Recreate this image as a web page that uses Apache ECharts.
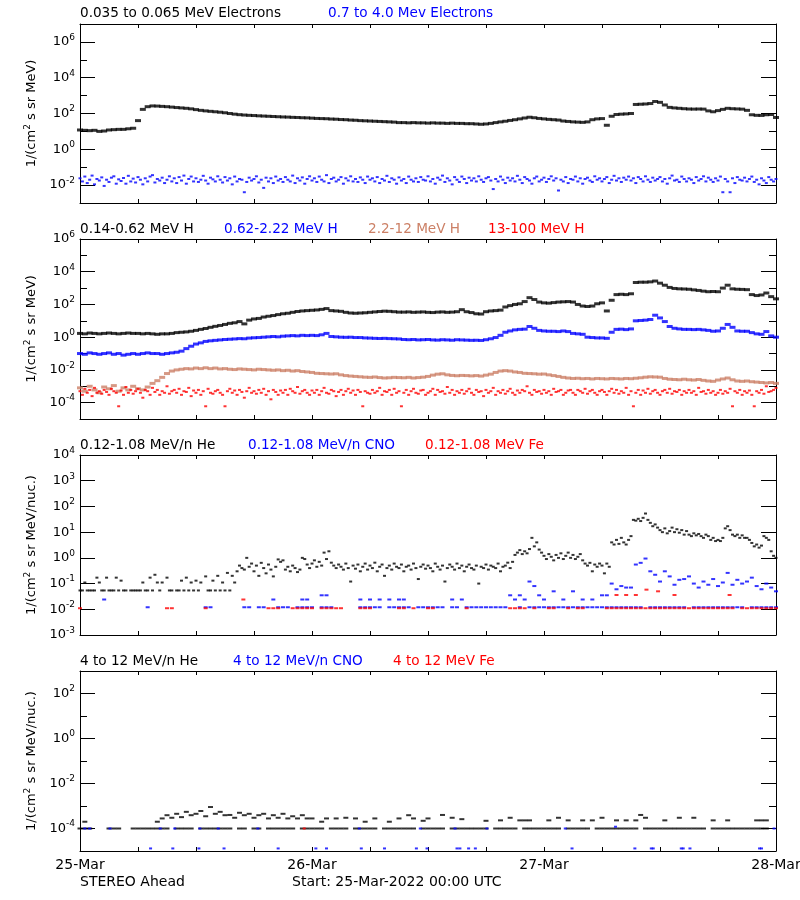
<!DOCTYPE html>
<html>
<head>
<meta charset="utf-8">
<script src="https://cdn.jsdelivr.net/npm/echarts@6.0.0/dist/echarts.min.js"></script>
<style>html,body{margin:0;padding:0;background:#fff}#c{width:800px;height:900px}</style>
</head>
<body>
<div id="c"></div>
<script>
const _ = null;
// ---------- time / tick labels ----------
const dayLabels = ['25-Mar', '26-Mar', '27-Mar', '28-Mar'];
const dayTicks = [0, 24, 48, 72];          // hours since 25-Mar-2022 00:00 UTC
const halfHour = 0.5, quarterHour = 0.25;  // sampling steps (hours)

const p1Labels = [1e-2, 1, 1e2, 1e4, 1e6];
const p1Ticks = [1e-2, 1e-1, 1, 1e1, 1e2, 1e3, 1e4, 1e5, 1e6];
const p2Labels = [1e-4, 1e-2, 1, 1e2, 1e4, 1e6];
const p2Ticks = [1e-4, 1e-3, 1e-2, 1e-1, 1, 1e1, 1e2, 1e3, 1e4, 1e5, 1e6];
const p3Labels = [1e-3, 1e-2, 1e-1, 1, 1e1, 1e2, 1e3, 1e4];
const p3Ticks = p3Labels;
const p4Labels = [1e-4, 1e-2, 1, 1e2];
const p4Ticks = [1e-4, 1e-3, 1e-2, 1e-1, 1, 1e1, 1e2];

// ---------- Panel 1: electrons ----------
// 0.035 to 0.065 MeV Electrons (30-min)
const eLow = [
 12,11.5,11,11.5,10,10.5,12,12.5,13,13,14,15,
 40,170,240,265,260,250,240,228,215,205,195,182,
 165,150,140,132,125,118,110,100,92,86,82,79,
 77,74,72,70,68,66,64,63,61,60,58,57,
 55,53,52,51,49,48,46,45,43,42,40,39,
 38,37,36,35,34,33,31,31,30,31,30,30,
 29,30,29,29,28,29,28,28,27,27,26,25,
 26,28,31,34,37,41,45,50,56,62,58,53,
 50,47,45,43,38,36,34,33,32,34,45,50,
 52,22,70,88,92,95,100,320,330,340,360,470,
 420,300,220,205,195,185,178,176,178,176,140,125,
 145,170,195,185,180,175,150,85,79,78,85,88,
 60];
// 0.7 to 4.0 Mev Electrons (15-min)
const eHigh = [
 .024,.016,.03,.013,.02,.034,.011,.022,.018,.027,.009,.02,
 .015,.026,.031,.012,.021,.017,.025,.012,.033,.016,.023,.014,
 .028,.02,.011,.024,.016,.03,.036,.014,.022,.018,.026,.013,
 .02,.031,.016,.024,.013,.028,.018,.034,.012,.022,.03,.016,
 .024,.015,.02,.033,.018,.012,.026,.021,.016,.031,.02,.014,
 .028,.018,.024,.011,.03,.016,.022,.02,.004,.015,.026,.018,
 .022,.031,.014,.02,.007,.026,.016,.024,.013,.03,.018,.022,
 .015,.028,.02,.016,.034,.013,.024,.018,.027,.012,.022,.031,
 .018,.024,.015,.03,.02,.016,.036,.013,.022,.026,.016,.02,
 .028,.012,.024,.018,.031,.016,.022,.015,.027,.02,.013,.03,
 .02,.024,.016,.028,.013,.022,.018,.033,.015,.024,.02,.012,
 .027,.018,.022,.013,.03,.02,.016,.024,.015,.028,.02,.018,
 .031,.016,.022,.012,.026,.02,.034,.015,.024,.018,.011,.028,
 .02,.015,.03,.022,.013,.026,.018,.024,.016,.031,.02,.015,
 .024,.028,.018,.006,.022,.016,.03,.02,.013,.026,.018,.024,
 .016,.033,.02,.013,.028,.022,.018,.012,.024,.03,.016,.02,
 .026,.015,.022,.031,.018,.024,.005,.02,.016,.028,.013,.022,
 .02,.03,.016,.024,.012,.022,.026,.018,.015,.031,.02,.024,
 .016,.022,.028,.013,.02,.033,.018,.024,.015,.026,.02,.03,
 .018,.024,.013,.028,.022,.016,.031,.02,.015,.026,.018,.022,
 .028,.016,.022,.012,.024,.034,.018,.02,.015,.03,.022,.016,
 .024,.02,.013,.028,.018,.022,.031,.016,.026,.02,.015,.024,
 .018,.03,.004,.022,.016,.004,.024,.013,.028,.02,.018,.026,
 .016,.022,.03,.015,.02,.011,.024,.018,.013,.028,.02,.016,
 .022];

// ---------- Panel 2: protons ----------
// 0.14-0.62 MeV H (30-min)
const hLow = [
 1.7,1.6,1.8,1.7,1.6,1.7,1.8,1.7,1.6,1.7,1.8,1.7,
 1.7,1.6,1.7,1.6,1.5,1.6,1.6,1.7,1.9,2.0,2.1,2.3,
 2.6,3.0,3.4,4.0,4.6,5.2,6,7,7.6,9,6.5,11,
 13,14,17,19,21,24,27,29,33,37,40,42,
 44,46,50,56,42,40,38,33,30,29,30,31,
 33,35,37,39,38,36,34,34,35,33,34,35,
 33,32,34,35,33,34,36,48,36,32,27,26,
 36,40,42,45,70,85,100,110,150,260,200,140,
 125,120,130,140,145,150,140,100,80,75,80,110,
 125,40,180,400,420,400,450,2200,2300,2300,2400,2700,
 2000,1500,1100,950,900,880,850,780,720,650,600,620,
 600,1000,1500,900,850,830,800,400,350,380,500,300,
 220];
// 0.62-2.22 MeV H (30-min)
const hMid = [
 .1,.09,.11,.1,.09,.1,.11,.09,.1,.08,.09,.1,
 .09,.1,.11,.1,.1,.09,.1,.11,.12,.14,.2,.28,
 .38,.45,.55,.6,.64,.68,.72,.75,.78,.82,.8,.88,
 .92,.95,1.0,1.05,1.1,1.05,1.15,1.2,1.25,1.2,1.3,1.25,
 1.3,1.25,1.4,1.7,1.1,1.05,1.0,.98,1.0,.95,.95,.9,
 .88,.85,.83,.85,.82,.8,.78,.72,.7,.72,.68,.7,
 .72,.68,.66,.7,.68,.65,.7,.68,.66,.64,.65,.63,
 .7,.8,.95,1.3,2.0,2.4,2.8,3.0,3.1,4.5,3.5,2.6,
 2.4,2.3,2.3,2.2,2.4,2.2,1.7,1.6,1.5,1.0,.95,.9,
 .9,.85,2.0,3.0,3.1,2.9,3.2,10,10.5,11,12,22,
 15,9,4.5,3.5,3.2,3.0,3.0,2.9,3.0,2.8,2.6,2.3,
 2.4,3.5,6,4,2.4,2.3,2.3,1.9,1.6,1.5,2.2,1.2,
 1.0];
// 2.2-12 MeV H (30-min)
const hHigh = [
 8e-4,5e-4,1e-3,6e-4,4e-4,9e-4,7e-4,1.1e-3,5e-4,8e-4,6e-4,1e-3,
 7e-4,6e-4,9e-4,1.5e-3,2.2e-3,3.5e-3,6e-3,8.5e-3,.01,.011,.012,.0115,
 .013,.012,.0135,.012,.013,.0115,.012,.011,.0105,.0115,.011,.0105,
 .01,.011,.0105,.01,.0095,.01,.009,.0095,.0085,.009,.008,.0075,
 .007,.0062,.006,.0058,.0056,.0058,.005,.0045,.0042,.004,.0038,.0036,
 .0035,.0037,.0034,.0032,.0033,.0035,.0034,.0033,.0035,.0032,.0034,.0036,
 .004,.0048,.0055,.0058,.005,.0046,.0044,.0046,.0045,.0043,.0045,.0042,
 .0048,.0055,.007,.0085,.009,.0085,.0075,.007,.0062,.006,.0058,.0055,
 .0056,.005,.0045,.004,.0035,.0032,.003,.0031,.0029,.003,.0028,.003,
 .0029,.0028,.003,.0029,.0028,.003,.0029,.0031,.0033,.0036,.0038,.0037,
 .0036,.003,.0027,.0026,.0025,.0027,.0025,.0024,.0026,.0023,.0021,.002,
 .0024,.0028,.0032,.0025,.0021,.002,.0021,.0019,.0018,.0017,.0016,.0017,
 .0015];
// 13-100 MeV H (15-min)
const hTop = [
 5e-4,3e-4,7e-4,4e-4,6e-4,2.5e-4,8e-4,4e-4,5e-4,3.5e-4,6e-4,4.5e-4,
 3e-4,7e-4,5e-4,4e-4,6e-5,5.5e-4,3e-4,9e-4,4e-4,6e-4,3.5e-4,5e-4,
 7e-4,4e-4,2e-4,6e-4,5e-4,3e-4,8e-4,4.5e-4,6e-4,3e-4,5e-4,4e-4,
 1e-3,3.5e-4,5e-4,6e-4,4e-4,7e-4,3e-4,5e-4,4.5e-4,8e-4,2.5e-4,5.5e-4,
 4e-4,6e-4,3e-4,5e-4,6e-5,7e-4,4e-4,3.5e-4,5e-4,6e-4,4e-4,3e-4,
 6e-5,5e-4,7e-4,4e-4,5.5e-4,3e-4,6e-4,4.5e-4,2e-4,5e-4,8e-4,4e-4,
 5e-4,3.5e-4,6e-4,4e-4,7e-4,3e-4,5e-4,1.6e-4,6e-4,4.5e-4,3e-4,5.5e-4,
 4e-4,6e-4,3e-4,7e-4,5e-4,4e-4,9e-4,3.5e-4,5e-4,6e-4,4e-4,3e-4,
 5.5e-4,4e-4,6e-4,3e-4,5e-4,8e-4,4e-4,3.5e-4,6e-4,5e-4,2.5e-4,4.5e-4,
 6e-4,3e-4,5e-4,7e-4,4e-4,5.5e-4,3e-4,6e-4,4.5e-4,6e-5,5e-4,4e-4,
 3.5e-4,6e-4,4e-4,5e-4,8e-4,3e-4,5e-4,4.5e-4,6e-4,3e-4,7e-4,4e-4,
 5e-4,6e-5,4e-4,6e-4,3e-4,5e-4,7e-4,4e-4,3.5e-4,5.5e-4,6e-4,3e-4,
 4e-4,5e-4,7e-4,3e-4,6e-4,4.5e-4,5e-4,3.5e-4,9e-4,4e-4,6e-4,3e-4,
 5e-4,4e-4,6e-4,3.5e-4,5e-4,7e-4,4e-4,3e-4,6e-4,4.5e-4,5e-4,2.5e-4,
 6e-4,4e-4,5e-4,8e-4,3e-4,5e-4,4e-4,6e-4,3.5e-4,5e-4,7e-4,4e-4,
 3e-4,5.5e-4,4e-4,6e-4,5e-4,1e-3,4e-4,3e-4,6e-4,4.5e-4,5e-4,3.5e-4,
 6e-4,4e-4,5e-4,3e-4,7e-4,4.5e-4,5e-4,6e-4,3e-4,4e-4,5.5e-4,6e-4,
 4e-4,3e-4,6e-4,5e-4,4e-4,7e-4,3.5e-4,5e-4,6e-4,4e-4,3e-4,5e-4,
 6e-4,4.5e-4,3e-4,5e-4,7e-4,4e-4,6e-4,3.5e-4,5e-4,4e-4,8e-4,3e-4,
 5e-4,6e-5,4e-4,6e-4,3e-4,5.5e-4,4e-4,7e-4,3.5e-4,5e-4,6e-4,4e-4,
 3e-4,5e-4,6e-4,4e-4,7e-4,3.5e-4,5e-4,4.5e-4,6e-4,3e-4,5e-4,4e-4,
 6e-4,4e-4,5e-4,3e-4,8e-4,4.5e-4,5e-4,3.5e-4,6e-4,4e-4,5e-4,3e-4,
 4e-4,6e-4,3.5e-4,5e-4,4e-4,7e-4,6e-5,5e-4,4e-4,6e-4,3e-4,5e-4,
 4e-4,5.5e-4,3e-4,6e-5,5e-4,4e-4,6e-4,3.5e-4,1e-3,4.5e-4,5e-4,6e-4,
 8e-4];

// ---------- Panel 3: 0.12-1.08 MeV/n heavy ions ----------
// He (15-min)
const he3 = [
 .054,.054,.11,.054,.054,.054,.054,.17,.11,.054,.054,.17,
 .054,.054,.054,.17,.054,.13,.054,.054,_,.054,.054,.054,
 .054,.054,.11,.054,.054,.17,.054,.22,.11,.054,.11,_,
 .17,.054,.054,_,.054,.054,.13,.054,.17,.054,.11,.054,
 .13,.054,.11,_,.19,.054,.054,.13,.054,.2,.054,.11,
 .054,.26,.054,.2,.11,.3,.5,.4,.35,1.0,.45,.6,
 .3,.5,.2,.64,.4,.25,.55,.35,.19,.45,.87,.7,
 .8,.35,.45,.3,.5,.4,.28,.35,1.0,.9,.55,.4,
 .6,.8,.45,.7,.5,1.6,.9,1.8,.65,.5,.4,.55,
 .45,.35,.6,.4,.12,.5,.38,.55,.3,.45,.6,.35,
 .5,.4,.65,.3,.45,.55,.2,.4,.5,.35,.6,.45,
 .4,.55,.3,.45,.5,.35,.6,.4,.15,.45,.55,.38,
 .5,.4,.3,.6,.45,.35,.5,.12,.4,.55,.45,.35,
 .6,.4,.5,.3,.45,.55,.4,.35,.5,.1,.45,.4,
 .55,.35,.5,.45,.4,.6,.3,.45,.5,.65,.4,.7,
 1.3,1.6,2.0,1.4,1.8,1.5,2.2,6,2.8,4,2.1,1.6,
 1.2,.9,1.4,1.1,.8,1.3,1.0,1.5,.9,1.2,1.6,1.0,
 1.3,.9,1.1,1.4,.8,.6,.5,.64,.3,.55,.45,.6,
 .5,.25,.6,.45,4,3.3,5,3.5,6,4,3.3,5,
 7,30,28,33,27,36,53,30,23,17,20,15,
 12,10,14,9,11,15,10,13,9.5,12,8,11,
 8,7,9,7.5,8.5,7,6,8,7,5,6,4.5,
 5,4.5,6,14,17,12,8,7,8,6,7.5,6,
 6,5,3.8,2.8,3.3,2.5,3.0,7,6,5,1.8,1.2,
 1.0];
// CNO (30-min): single-count level and values above it
const cno3Base = [
 _,_,_,_,_,_,_,_,_,_,_,_,
 _,_,.012,_,_,_,_,_,_,_,_,_,
 _,_,.012,.012,_,_,_,_,_,_,.012,.012,
 _,.012,.012,_,_,.012,.012,.012,_,.012,.012,.012,
 .012,_,.012,.012,.012,_,_,_,_,_,.012,.012,
 .012,.012,.012,_,.012,.012,.012,.012,.012,_,.012,.012,
 .012,.012,.012,.012,_,.012,.012,_,.012,.012,.012,.012,
 .012,.012,.012,.012,.012,_,_,.012,_,.012,.012,.012,
 .012,.012,.012,.012,.012,.012,.012,.012,.012,.012,.012,.012,
 .012,.012,.012,.012,.012,.012,.012,.012,.012,_,.012,.012,
 .012,.012,.012,.012,.012,.012,_,.012,.012,.012,.012,.012,
 .012,.012,.012,.012,.012,.012,_,.012,.012,.012,.012,.012,
 .012];
const cno3Up = [
 _,_,_,_,_,.024,_,_,_,_,_,_,
 _,_,_,_,_,_,_,_,_,_,_,_,
 _,_,_,_,_,_,_,_,_,_,_,_,
 _,_,_,_,.024,_,_,_,_,_,.024,.024,
 _,_,.035,.035,_,_,_,_,_,_,.024,_,
 .024,_,.024,_,.024,_,.024,.024,_,_,_,_,
 _,_,_,_,_,.024,_,.024,_,_,_,_,
 _,_,_,_,_,.035,.024,.035,.024,.12,.08,.035,
 .024,_,.05,_,.024,_,.05,_,.024,_,.024,_,
 .035,.035,.1,.06,.08,.07,.07,.55,.64,.94,.3,.22,
 .12,.3,.19,.09,.14,.15,.19,.1,.07,.12,.09,.15,
 .08,.11,.26,.09,.14,.1,.12,.17,.08,.06,.1,.07,
 .05];
// Fe (30-min) single-count level, plus a few higher points
const fe3Base = [
 .011,_,_,_,_,_,_,_,_,_,_,_,
 _,_,_,_,_,_,.011,.011,_,_,_,_,
 _,_,.011,_,_,_,_,_,_,_,_,_,
 _,_,_,.011,.011,.011,_,_,.011,.011,.011,.011,
 .011,_,.011,.011,.011,.011,.011,_,_,_,.011,.011,
 .011,_,_,_,_,_,.011,.011,_,.011,_,_,
 .011,.011,_,_,_,_,_,_,.011,_,_,_,
 _,_,_,_,_,.011,.011,.011,.011,_,.011,_,
 _,.011,.011,_,_,.011,_,.011,.011,_,_,_,
 _,.011,.011,.011,.011,.011,.011,.011,.011,.011,.011,.011,
 .011,.011,.011,.011,.011,.011,.011,.011,.011,.011,.011,.011,
 .011,.011,.011,.011,_,.011,.011,.011,.011,.011,.011,.011,
 .011];
const fe3UpT = [16.9, 55.5, 56.5, 57.5, 58.6, 59.8, 61.5, 67.2];
const fe3UpV = [.024, .036, .036, .036, .058, .05, .036, .036];

// ---------- Panel 4: 4 to 12 MeV/n heavy ions ----------
const he4Base = [
 1e-4,1e-4,1e-4,_,_,_,1e-4,1e-4,1e-4,_,_,1e-4,
 1e-4,1e-4,1e-4,1e-4,1e-4,1e-4,1e-4,_,1e-4,1e-4,1e-4,1e-4,
 _,1e-4,1e-4,1e-4,1e-4,1e-4,1e-4,1e-4,_,1e-4,1e-4,_,
 1e-4,1e-4,_,1e-4,1e-4,1e-4,1e-4,1e-4,1e-4,_,1e-4,1e-4,
 1e-4,1e-4,1e-4,_,1e-4,1e-4,1e-4,1e-4,_,1e-4,1e-4,1e-4,
 1e-4,1e-4,_,1e-4,1e-4,1e-4,1e-4,1e-4,1e-4,1e-4,_,1e-4,
 1e-4,1e-4,1e-4,1e-4,_,1e-4,1e-4,1e-4,1e-4,1e-4,1e-4,1e-4,
 1e-4,_,1e-4,1e-4,1e-4,1e-4,1e-4,_,1e-4,1e-4,1e-4,1e-4,
 1e-4,1e-4,1e-4,1e-4,_,1e-4,1e-4,1e-4,1e-4,1e-4,_,1e-4,
 1e-4,1e-4,1e-4,1e-4,1e-4,1e-4,1e-4,1e-4,_,1e-4,1e-4,1e-4,
 1e-4,1e-4,1e-4,1e-4,1e-4,1e-4,1e-4,1e-4,1e-4,1e-4,_,1e-4,
 1e-4,1e-4,1e-4,1e-4,1e-4,1e-4,1e-4,1e-4,1e-4,1e-4,1e-4,_,
 _];
const he4Up = [
 _,2e-4,_,_,_,_,_,_,_,_,_,_,
 _,_,_,_,2e-4,2.8e-4,3.9e-4,3e-4,4.5e-4,3.2e-4,5.5e-4,3.9e-4,
 4.5e-4,6e-4,3.5e-4,9e-4,4.5e-4,5.5e-4,3.9e-4,4e-4,3e-4,5e-4,3.9e-4,4.5e-4,
 3e-4,3.9e-4,4.5e-4,2.8e-4,3.9e-4,3e-4,4.5e-4,2.8e-4,3.5e-4,2.8e-4,3.9e-4,2.8e-4,
 2.8e-4,_,2e-4,2.8e-4,_,2.8e-4,_,3e-4,_,2.8e-4,_,2e-4,
 _,2.8e-4,_,_,2e-4,_,2.8e-4,_,3.9e-4,2.8e-4,_,2.2e-4,
 2.8e-4,_,_,4e-4,_,3e-4,_,2.6e-4,_,_,_,_,
 2.2e-4,_,_,2.3e-4,_,3e-4,_,2.3e-4,2.3e-4,2.3e-4,_,_,
 _,2.3e-4,_,3e-4,_,2.3e-4,_,_,2.3e-4,_,2.3e-4,_,
 3e-4,_,_,2.3e-4,_,2.3e-4,_,2.3e-4,4e-4,3e-4,_,_,
 _,2.3e-4,_,_,3e-4,_,_,3e-4,_,_,_,2.3e-4,
 _,_,2.3e-4,_,_,_,_,_,2.3e-4,2.3e-4,2.3e-4,_,
 _];
const cno4T = [0.5,1,3.1,8.3,9.8,12.4,14.3,18.4,28.9,35.2,38.8,42.1,50.2,55.4,71.8,
  7.3,9.6,12.3,14.9,20.5,24.4,25.5,29.1,31.5,34.8,35.9,39,39.3,40.2,40.9,50.9,57.4,59.1,59.3,62.2,62.4,63.1,70.3,70.5];
const cno4V = [1e-4,1e-4,1e-4,1e-4,1e-4,1e-4,1e-4,1e-4,1e-4,1e-4,1e-4,1e-4,1e-4,1.2e-4,1e-4,
  1.3e-5,1.3e-5,1.3e-5,1.3e-5,1.3e-5,1.3e-5,1.3e-5,1.3e-5,1.3e-5,1.3e-5,1.3e-5,1.3e-5,1.3e-5,1.3e-5,1.3e-5,1.3e-5,1.3e-5,1.3e-5,1.3e-5,1.3e-5,1.3e-5,1.3e-5,1.3e-5,1.3e-5];
const fe4T = [23.2];
const fe4V = [1e-4];

// ---------- build ----------
const FONT = 'DejaVu Sans';
const COL = { black: '#000000', blue: '#0000ff', tan: '#cc8066', red: '#ff0000' };

function sampled(arr, step) {
  const out = [];
  arr.forEach((v, i) => { if (v != null) out.push([i * step, v]); });
  return out;
}
function paired(ts, vs) { return ts.map((t, i) => [t, vs[i]]); }

const panels = [
  { top: 24,  height: 179, min: 1e-3, max: 1e7, labels: p1Labels, ticks: p1Ticks, unit: 'MeV' },
  { top: 239, height: 180, min: 1e-5, max: 1e6, labels: p2Labels, ticks: p2Ticks, unit: 'MeV' },
  { top: 455, height: 180, min: 1e-3, max: 1e4, labels: p3Labels, ticks: p3Ticks, unit: 'MeV/nuc.' },
  { top: 671, height: 180, min: 1e-5, max: 1e3, labels: p4Labels, ticks: p4Ticks, unit: 'MeV/nuc.' }
];

const supRich = {
  b: { fontFamily: FONT, fontSize: 13, color: '#000', lineHeight: 18 },
  s: { fontFamily: FONT, fontSize: 9, color: '#000', lineHeight: 9, verticalAlign: 'top' }
};
function supFmt(v) {
  const e = Math.round(Math.log10(v));
  return '{b|10}{s|' + e + '}';
}

const grid = [], xAxis = [], yAxis = [];
panels.forEach((p, gi) => {
  grid.push({ left: 80, right: 24, top: p.top, height: p.height, containLabel: false, outerBoundsMode: 'none' });
  const xBase = {
    type: 'value', gridIndex: gi, min: 0, max: 72, interval: 6,
    axisLine: { show: true, onZero: false, lineStyle: { color: '#000', width: 1 } },
    axisTick: { show: true, inside: true, length: 4, lineStyle: { color: '#000' } },
    splitLine: { show: false }, axisLabel: { show: false }
  };
  xAxis.push(Object.assign({}, xBase, {
    position: 'bottom',
    axisLabel: gi === 3 ? {
      show: true, customValues: dayTicks, margin: 7, color: '#000',
      fontFamily: FONT, fontSize: 14,
      formatter: v => dayLabels[dayTicks.indexOf(Math.round(v))]
    } : { show: false }
  }));
  xAxis.push(Object.assign({}, xBase, { position: 'top' }));

  const yBase = {
    type: 'log', logBase: 10, gridIndex: gi, min: p.min, max: p.max,
    splitLine: { show: false }, axisLabel: { show: false },
    axisLine: { show: false, onZero: false }
  };
  const unitText = '{n|1/(cm}{s|2}{n| s sr ' + p.unit + ')}';
  yAxis.push(Object.assign({}, yBase, {
    position: 'left',
    axisLine: { show: true, onZero: false, lineStyle: { color: '#000', width: 1 } },
    axisTick: { show: true, inside: true, length: 15, customValues: p.labels, lineStyle: { color: '#000' } },
    axisLabel: { show: true, customValues: p.labels, formatter: supFmt, margin: 5, rich: supRich, showMinLabel: true, showMaxLabel: true },
    name: unitText, nameLocation: 'middle', nameRotate: 90, nameGap: 39,
    nameTextStyle: { rich: {
      n: { fontFamily: FONT, fontSize: 13, color: '#000', lineHeight: 18 },
      s: { fontFamily: FONT, fontSize: 9, color: '#000', lineHeight: 9, verticalAlign: 'top' }
    } }
  }));
  yAxis.push(Object.assign({}, yBase, {
    position: 'left',
    axisTick: { show: true, inside: true, length: 7, customValues: p.ticks, lineStyle: { color: '#000' } }
  }));
  yAxis.push(Object.assign({}, yBase, {
    position: 'right',
    axisLine: { show: true, onZero: false, lineStyle: { color: '#000', width: 1 } },
    axisTick: { show: true, inside: true, length: 15, customValues: p.labels, lineStyle: { color: '#000' } }
  }));
  yAxis.push(Object.assign({}, yBase, {
    position: 'right',
    axisTick: { show: true, inside: true, length: 7, customValues: p.ticks, lineStyle: { color: '#000' } }
  }));
});

function sc(name, gi, data, color, size) {
  return {
    type: 'scatter', name: name, xAxisIndex: gi * 2, yAxisIndex: gi * 4,
    data: data, symbol: 'rect', symbolSize: size,
    itemStyle: { color: color }, silent: true, animation: false
  };
}

const series = [
  sc('0.035 to 0.065 MeV Electrons', 0, sampled(eLow, halfHour), COL.black, [6, 3]),
  sc('0.7 to 4.0 Mev Electrons', 0, sampled(eHigh, quarterHour), COL.blue, [3, 2]),
  sc('0.14-0.62 MeV H', 1, sampled(hLow, halfHour), COL.black, [6, 3]),
  sc('0.62-2.22 MeV H', 1, sampled(hMid, halfHour), COL.blue, [6, 3]),
  sc('2.2-12 MeV H', 1, sampled(hHigh, halfHour), COL.tan, [6, 3]),
  sc('13-100 MeV H', 1, sampled(hTop, quarterHour), COL.red, [3, 2]),
  sc('0.12-1.08 MeV/n He', 2, sampled(he3, quarterHour), COL.black, [3, 2]),
  sc('0.12-1.08 MeV/n CNO', 2, sampled(cno3Base, halfHour).concat(sampled(cno3Up, halfHour)), COL.blue, [4, 2]),
  sc('0.12-1.08 MeV Fe', 2, sampled(fe3Base, halfHour).concat(paired(fe3UpT, fe3UpV)), COL.red, [4, 2]),
  sc('4 to 12 MeV/n He', 3, sampled(he4Base, halfHour).concat(sampled(he4Up, halfHour)), COL.black, [5, 2]),
  sc('4 to 12 MeV/n CNO', 3, paired(cno4T, cno4V), COL.blue, [3, 2]),
  sc('4 to 12 MeV Fe', 3, paired(fe4T, fe4V), COL.red, [3, 2])
];

function txt(x, y, s, color, size) {
  return { type: 'text', x: x, y: y, silent: true,
    style: { text: s, fill: color, font: (size || 13.6) + 'px "' + FONT + '"', align: 'left', verticalAlign: 'middle' } };
}
const graphic = [
  txt(80, 13, '0.035 to 0.065 MeV Electrons', COL.black),
  txt(328, 13, '0.7 to 4.0 Mev Electrons', COL.blue),
  txt(80, 229, '0.14-0.62 MeV H', COL.black),
  txt(224, 229, '0.62-2.22 MeV H', COL.blue),
  txt(368, 229, '2.2-12 MeV H', COL.tan),
  txt(488, 229, '13-100 MeV H', COL.red),
  txt(80, 445, '0.12-1.08 MeV/n He', COL.black),
  txt(248, 445, '0.12-1.08 MeV/n CNO', COL.blue),
  txt(425, 445, '0.12-1.08 MeV Fe', COL.red),
  txt(80, 661, '4 to 12 MeV/n He', COL.black),
  txt(233, 661, '4 to 12 MeV/n CNO', COL.blue),
  txt(393, 661, '4 to 12 MeV Fe', COL.red),
  txt(80, 882, 'STEREO Ahead', COL.black, 14),
  txt(292, 882, 'Start: 25-Mar-2022 00:00 UTC', COL.black, 14)
];

const chart = echarts.init(document.getElementById('c'), null, { renderer: 'canvas' });
chart.setOption({
  backgroundColor: '#ffffff',
  animation: false,
  textStyle: { fontFamily: FONT },
  grid: grid, xAxis: xAxis, yAxis: yAxis, series: series, graphic: graphic
});
</script>
</body>
</html>
